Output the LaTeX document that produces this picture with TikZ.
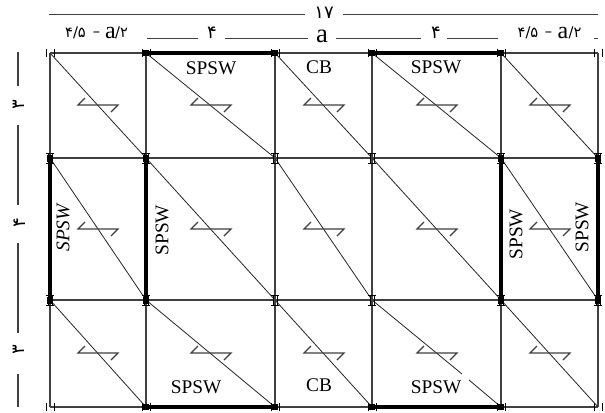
\documentclass[tikz,border=0pt]{standalone}
\usepackage{fontspec}
\usetikzlibrary{calc}
\setmainfont{Liberation Serif}
\newfontfamily\fa{DejaVu Sans}
\tikzset{
  x=0.75pt,y=-0.75pt,
  beam/.style={draw=black!75,line width=1.15pt},
  heavy/.style={draw=black,line width=2.4pt},
  diag/.style={draw=black!85,line width=0.6pt},
  deck/.style={draw=black!75,line width=0.9pt},
  dim/.style={draw=black!75,line width=0.8pt},
  flange/.style={draw=black,line width=0.7pt},
  lab/.style={font=\fontsize{14.5}{16}\selectfont,inner sep=0pt},
  dimlab/.style={font=\fa\fontsize{13.5}{15}\selectfont,inner sep=0pt},
  fraclab/.style={font=\fa\fontsize{11}{13}\selectfont,inner sep=0pt},
  alab/.style={font=\fontsize{20}{22}\selectfont,inner sep=0pt},
  blab/.style={font=\fontsize{18}{20}\selectfont,inner sep=0pt},
}
\begin{document}
\begin{tikzpicture}
\useasboundingbox (0,0) rectangle (605,412);
\path[fill=white] (0,0) rectangle (605,412);
\foreach \cn/\x in {1/50,2/146,3/275,4/372,5/501,6/598}
  \foreach \rn/\y in {1/53,2/158,3/300,4/407}
    \coordinate (c\cn\rn) at (\x,\y);
% diagonals
\foreach \a/\b in {11/22,21/32,31/42,41/52,51/62,
                   12/23,22/33,32/43,42/53,52/63,
                   13/24,23/34,33/44,53/64}
  \draw[diag] (c\a) -- (c\b);
\coordinate (gapA) at (462,374);
\coordinate (gapB) at (469,380);
\draw[diag] (c43) -- (gapA);
\draw[diag] (gapB) -- (c54);
% grid
\foreach \r in {1,2,3,4}
  \draw[beam] (c1\r) -- (c6\r);
\foreach \c in {1,2,3,4,5,6}
  \draw[beam] (c\c1) -- (c\c4);
% heavy SPSW members
\foreach \a/\b in {21/31,41/51,24/34,44/54,12/13,22/23,52/53,62/63}
  \draw[heavy] (c\a) -- (c\b);
% deck direction symbols
\foreach \x in {98,211,324,437,550}
  \foreach \y in {105,229,353}
    \draw[deck] (\x-13,\y-7) -- (\x-20,\y) -- (\x+20,\y) -- (\x+13,\y+7);
% joints: roof and base
\foreach \cn in {1,2,3,4,5,6}
  \foreach \rn in {1,4}{
    \draw[flange] ($(c\cn\rn)+(-4,-4)$) -- ++(0,8);
    \draw[flange] ($(c\cn\rn)+(4,-4)$) -- ++(0,8);
  }
% joints: floors
\foreach \cn in {1,2,3,4,5,6}
  \foreach \rn in {2,3}{
    \draw[flange] ($(c\cn\rn)+(-4,-5)$) -- ++(8,0);
    \draw[flange] ($(c\cn\rn)+(-4,5)$) -- ++(8,0);
    \draw[flange] ($(c\cn\rn)+(-2,-5)$) -- ++(0,10);
    \draw[flange] ($(c\cn\rn)+(2,-5)$) -- ++(0,10);
  }
\foreach \c in {12,13,22,23,52,53,62,63}
  \fill[black] ($(c\c)+(-3,-3.5)$) rectangle ($(c\c)+(3,3.5)$);
\foreach \c in {21,31,41,51,24,34,44,54}
  \fill[black] ($(c\c)+(-3,-3)$) rectangle ($(c\c)+(3,3)$);
% labels
\node[lab] (s1) at (211,68) {SPSW};
\node[lab] (s2) at (436,67) {SPSW};
\node[lab] (s3) at (196,387) {SPSW};
\node[lab] (s4) at (436,387) {SPSW};
\node[lab] (cb1) at (319,67) {CB};
\node[lab] (cb2) at (319,385) {CB};
\node[lab,rotate=90] (s5) at (63,228) {\itshape SPSW};
\node[lab,rotate=90] (s6) at (162,230) {SPSW};
\node[lab,rotate=90] (s7) at (516,234) {SPSW};
\node[lab,rotate=90] (s8) at (582,227) {SPSW};
% dimensions top
\node[dimlab] (d17) at (324,13) {۱۷};
\draw[dim] (49,14.7) -- (305,14.7);
\draw[dim] (343,14.7) -- (598,14.7);
\node[fraclab] (f1) at (75.5,33) {۴/۵};
\node[fraclab] (m1) at (96.5,34) {–};
\node[blab] (a1) at (110.5,33) {a};
\node[fraclab] (g1) at (121.5,33) {/۲};
\node[fraclab] (f2) at (528,33) {۴/۵};
\node[fraclab] (m2) at (548.5,34) {–};
\node[blab] (a2) at (563,33) {a};
\node[fraclab] (g2) at (575,33) {/۲};
\node[dimlab] (d4a) at (212,33) {۴};
\node[dimlab] (d4b) at (436,33) {۴};
\node[alab] (da2) at (322,36) {a};
\draw[dim] (147,38.5) -- (198,38.5);
\draw[dim] (225,38.5) -- (308,38.5);
\draw[dim] (336,38.5) -- (421,38.5);
\draw[dim] (447,38.5) -- (498,38.5);
\draw[dim] (594,38.5) -- (598,38.5);
% dimensions left
\node[dimlab,rotate=90] (l1) at (19,105) {۳};
\node[dimlab,rotate=90] (l2) at (20,223) {۴};
\node[dimlab,rotate=90] (l3) at (19,350) {۳};
\draw[dim] (18,52) -- (18,86);
\draw[dim] (18,125) -- (18,205);
\draw[dim] (18,243) -- (18,333);
\draw[dim] (18,374) -- (18,407);
\end{tikzpicture}
\end{document}
